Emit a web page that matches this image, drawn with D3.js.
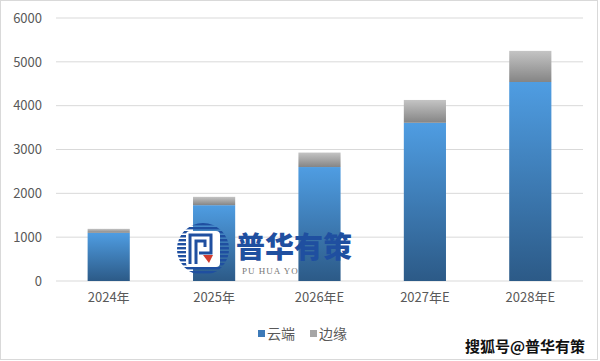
<!DOCTYPE html>
<html><head><meta charset="utf-8">
<script src="https://cdn.jsdelivr.net/npm/d3@7/dist/d3.min.js"></script>
<style>body{margin:0;background:#fff}svg{display:block}</style>
</head><body><svg id="c" width="600" height="361"></svg>
<script>
const categories = ["2024年","2025年","2026年E","2027年E","2028年E"];
const cloud = [1100, 1730, 2600, 3610, 4540];
const edge  = [90, 190, 330, 520, 710];
const seriesNames = ["云端","边缘"];
const yTicks = [0,1000,2000,3000,4000,5000,6000];

const svg = d3.select("#c");
const font = "'Noto Sans CJK SC','Noto Sans',sans-serif";
const defs = svg.append("defs");
const gb = defs.append("linearGradient").attr("id","gb").attr("x1",0).attr("y1",0).attr("x2",0).attr("y2",1);
gb.append("stop").attr("offset","0%").attr("stop-color","#4f9de2");
gb.append("stop").attr("offset","100%").attr("stop-color","#2c5a87");
const gg = defs.append("linearGradient").attr("id","gg").attr("x1",0).attr("y1",0).attr("x2",0).attr("y2",1);
gg.append("stop").attr("offset","0%").attr("stop-color","#c4c4c4");
gg.append("stop").attr("offset","100%").attr("stop-color","#858585");

svg.append("rect").attr("x",0.5).attr("y",0.5).attr("width",597).attr("height",359)
  .attr("fill","#fff").attr("stroke","#d9d9d9");

const x = d3.scaleBand().domain(categories).range([56,583]).paddingInner(0.6).paddingOuter(0.3);
const y = d3.scaleLinear().domain([0,6000]).range([281,18]);

// gridlines
svg.append("g").selectAll("line").data(yTicks).join("line")
  .attr("x1",56).attr("x2",583).attr("y1",d=>y(d)).attr("y2",d=>y(d))
  .attr("stroke","#d9d9d9").attr("stroke-width",1);

// y axis labels
const ya = svg.append("g").attr("transform","translate(42,0)")
  .call(d3.axisLeft(y).tickValues(yTicks).tickSize(0).tickPadding(0).tickFormat(d3.format("d")));
ya.select(".domain").remove();
ya.selectAll("text").attr("fill","#595959").style("font-family",font).style("font-size","13px");

// x axis labels
const xa = svg.append("g").attr("transform","translate(0,293)")
  .call(d3.axisBottom(x).tickSize(0).tickPadding(0));
xa.select(".domain").remove();
xa.selectAll("text").attr("fill","#595959").style("font-family",font).style("font-size","13px").attr("dy","0.71em");

// small watermark text beneath bars
svg.append("text").attr("x",242).attr("y",274).text("PU HUA YOUCE")
  .attr("fill","#777").style("font-family","'Liberation Serif',serif").style("font-size","9px").attr("letter-spacing","1");

// bars
const bw = x.bandwidth();
svg.append("g").selectAll("rect").data(categories).join("rect")
  .attr("x",d=>x(d)).attr("width",bw)
  .attr("y",(d,i)=>y(cloud[i])).attr("height",(d,i)=>y(0)-y(cloud[i]))
  .attr("fill","url(#gb)");
svg.append("g").selectAll("rect").data(categories).join("rect")
  .attr("x",d=>x(d)).attr("width",bw)
  .attr("y",(d,i)=>y(cloud[i]+edge[i])).attr("height",(d,i)=>y(cloud[i])-y(cloud[i]+edge[i]))
  .attr("fill","url(#gg)");

// logo watermark
const lg = svg.append("g").attr("transform","translate(203,249)");
const clip = defs.append("clipPath").attr("id","lc");
clip.append("circle").attr("cx",0).attr("cy",0).attr("r",26);
const stripes = lg.append("g").attr("clip-path","url(#lc)");
d3.range(-26,27,4).forEach(v=>{
  stripes.append("rect").attr("x",-27).attr("y",v).attr("width",54).attr("height",2.4).attr("fill","#1f4fa0");
});
lg.append("rect").attr("x",-17).attr("y",-18).attr("width",34).attr("height",36).attr("rx",4).attr("fill","#fff");
lg.append("path").attr("d","M-13,15 V-14 H8 V4 H-4 M-7,15 V-8 H2 V-2").attr("fill","none")
  .attr("stroke","#1f4fa0").attr("stroke-width",3);
lg.append("path").attr("d","M0,6 L6,14 L10,6 Z").attr("fill","#d23b2e");
svg.append("text").attr("x",236).attr("y",258).text("普华有策")
  .attr("fill","#1f4fa0").style("font-family",font).style("font-weight","900").style("font-size","29px");

// legend
const leg = svg.append("g").style("font-family",font).style("font-size","14px");
[["url(#gb)",258,"#3d7ab8"],["url(#gg)",310,"#a6a6a6"]].forEach((c,i)=>{
  leg.append("rect").attr("x",c[1]).attr("y",330).attr("width",7).attr("height",7).attr("fill",c[2]);
  leg.append("text").attr("x",c[1]+9).attr("y",339).text(seriesNames[i]).attr("fill","#595959");
});

// bottom-right watermark
svg.append("text").attr("x",585).attr("y",352).attr("text-anchor","end").text("搜狐号@普华有策")
  .attr("fill","#111").attr("stroke","#fff").attr("stroke-width",3).attr("paint-order","stroke")
  .style("font-family",font).style("font-weight","bold").style("font-size","15px");
</script></body></html>
